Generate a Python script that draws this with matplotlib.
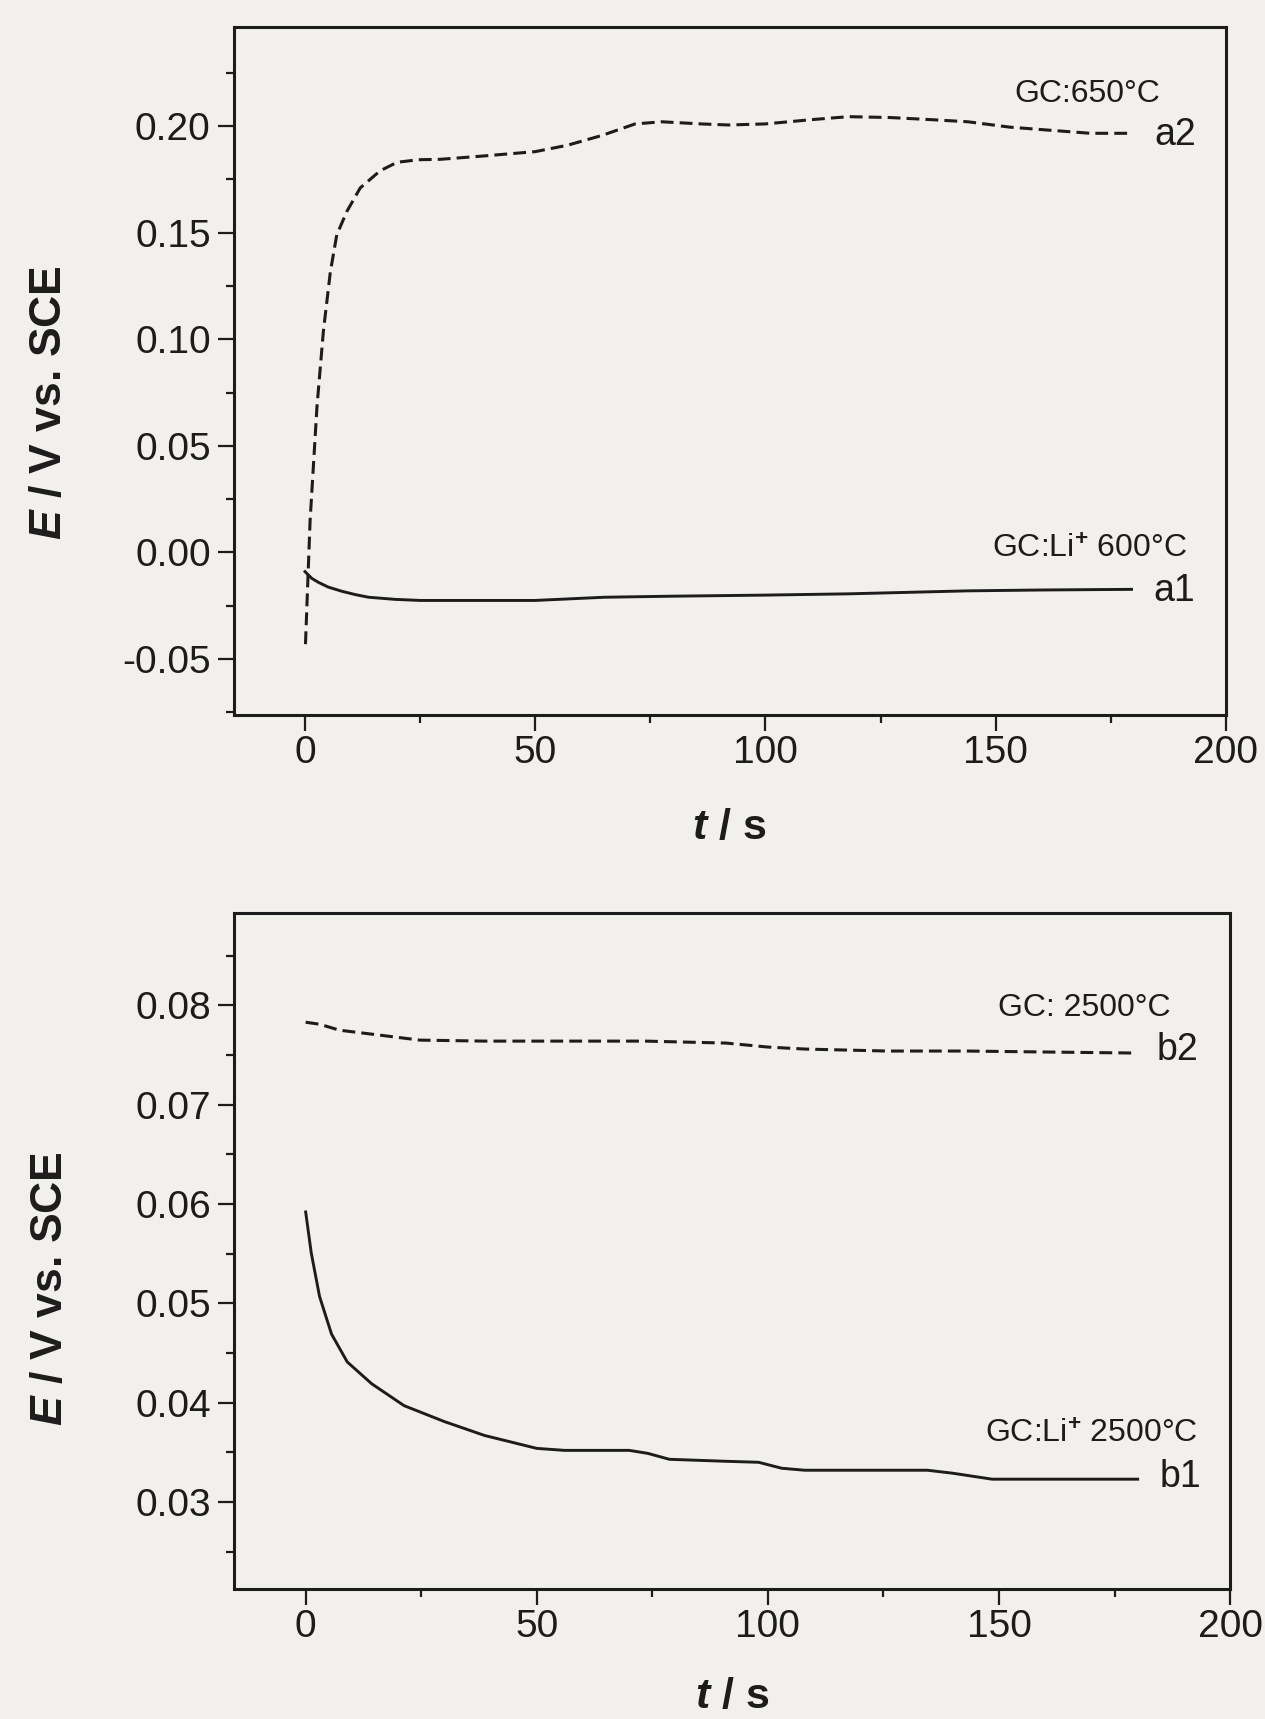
import matplotlib
matplotlib.use("Agg")
import matplotlib.pyplot as plt
from matplotlib.ticker import MultipleLocator

plt.rcParams['font.family'] = ['Liberation Sans', 'DejaVu Sans']
plt.rcParams['mathtext.fontset'] = 'custom'
plt.rcParams['mathtext.rm'] = 'Liberation Sans:bold'
plt.rcParams['mathtext.it'] = 'Liberation Sans:bold:italic'

# potential-time transients, panel (a)
a2_t = [0.1, 1.1, 2.6, 4.0, 5.5, 6.9, 9.1, 12.0, 16.3, 20.0, 24.6, 29.4, 39, 50, 57,
        64.5, 71.7, 77.5, 86, 92, 100, 110, 118, 127, 136, 144, 153, 162, 170.6, 179.5]
a2_E = [-0.043, 0.0148, 0.0685, 0.104, 0.1316, 0.149, 0.160, 0.171, 0.179, 0.183,
        0.1842, 0.1844, 0.186, 0.188, 0.191, 0.1956, 0.201, 0.202, 0.201, 0.2005, 0.201,
        0.203, 0.2044, 0.204, 0.203, 0.202, 0.1995, 0.198, 0.1966, 0.1966]
a1_t = [0, 1.5, 2.9, 5, 8, 11, 13.8, 19.6, 25, 35, 50, 65, 80, 100, 118, 144, 160, 179.5]
a1_E = [-0.009, -0.0122, -0.0140, -0.0162, -0.0182, -0.0198, -0.021, -0.022, -0.0225,
        -0.0225, -0.0225, -0.021, -0.0205, -0.020, -0.0194, -0.018, -0.0176, -0.0173]

# panel (b)
b2_t = [0, 3, 7.3, 14.3, 24.7, 38.7, 56, 73.5, 91, 100, 108, 125.8, 143, 160.6, 179]
b2_E = [0.0783, 0.0781, 0.0775, 0.0771, 0.0765, 0.0764, 0.0764, 0.0764, 0.0762, 0.0758,
        0.0756, 0.0754, 0.0754, 0.0753, 0.0752]
b1_t = [0, 1.2, 3, 5.6, 9, 14.3, 21.3, 30, 38.7, 50, 56, 70, 74, 78.7, 91, 98, 103, 108,
        134.5, 140, 148.5, 180]
b1_E = [0.0592, 0.0551, 0.0507, 0.0469, 0.0441, 0.0419, 0.0397, 0.0381, 0.0367, 0.0354,
        0.0352, 0.0352, 0.0349, 0.0343, 0.0341, 0.0340, 0.0334, 0.0332, 0.0332, 0.0329,
        0.0323, 0.0323]

a_labels = ["GC:650°C", "GC:Li$^{+}$ 600°C"]
b_labels = ["GC: 2500°C", "GC:Li$^{+}$ 2500°C"]

bg = '#f2f0ed'
ink = '#1c1c1c'

fig = plt.figure(figsize=(12.65, 17.19), dpi=100, facecolor=bg)
ax1 = fig.add_axes([0.1847, 0.5841, 0.7844, 0.4000])
ax2 = fig.add_axes([0.1850, 0.0756, 0.7874, 0.3933])


def style_axes(ax, ylim, ymajor, yminor, fmt):
    ax.set_facecolor(bg)
    ax.set_xlim(-15.5, 200)
    ax.set_ylim(*ylim)
    ax.xaxis.set_major_locator(MultipleLocator(50))
    ax.xaxis.set_minor_locator(MultipleLocator(25))
    ax.yaxis.set_major_locator(MultipleLocator(ymajor))
    ax.yaxis.set_minor_locator(MultipleLocator(yminor))
    ax.yaxis.set_major_formatter(plt.FormatStrFormatter(fmt))
    for s in ax.spines.values():
        s.set_linewidth(2.2)
        s.set_color(ink)
    ax.tick_params(which='both', direction='out', top=False, right=False,
                   color=ink, width=1.6)
    ax.tick_params(which='major', length=11.5, labelsize=28, labelcolor=ink)
    ax.tick_params(which='minor', length=6)
    ax.tick_params(axis='y', which='major', pad=5)
    ax.tick_params(axis='x', which='major', pad=3)
    ax.set_xlabel("$t$ / s", fontsize=31, fontweight='bold', color=ink)
    ax.set_ylabel("$E$ / V vs. SCE", fontsize=32, fontweight='bold', color=ink)


style_axes(ax1, (-0.0762, 0.2463), 0.05, 0.025, '%.2f')
style_axes(ax2, (0.02124, 0.0893), 0.01, 0.005, '%.2f')

ax1.plot(a2_t, a2_E, color=ink, lw=2.2, dashes=(4.2, 2.0))
ax1.plot(a1_t, a1_E, color=ink, lw=2.1)
ax2.plot(b2_t, b2_E, color=ink, lw=2.2, dashes=(4.2, 2.0))
ax2.plot(b1_t, b1_E, color=ink, lw=2.1)

ax1.text(169.8, 0.2151, a_labels[0], fontsize=23, color=ink, ha='center', va='center')
ax1.text(189.0, 0.1959, "a2", fontsize=27, color=ink, ha='center', va='center')
ax1.text(170.3, 0.0012, a_labels[1], fontsize=23, color=ink, ha='center', va='center')
ax1.text(188.8, -0.0183, "a1", fontsize=27, color=ink, ha='center', va='center')

ax2.text(168.4, 0.0797, b_labels[0], fontsize=23, color=ink, ha='center', va='center')
ax2.text(188.6, 0.07554, "b2", fontsize=27, color=ink, ha='center', va='center')
ax2.text(170.0, 0.0368, b_labels[1], fontsize=23, color=ink, ha='center', va='center')
ax2.text(189.3, 0.0325, "b1", fontsize=27, color=ink, ha='center', va='center')

ax1.yaxis.set_label_coords(-0.165, 0.454)
ax2.yaxis.set_label_coords(-0.164, 0.445)
ax1.xaxis.set_label_coords(0.499, -0.135)
ax2.xaxis.set_label_coords(0.500, -0.130)

fig.savefig("out.png", dpi=100, facecolor=bg)
